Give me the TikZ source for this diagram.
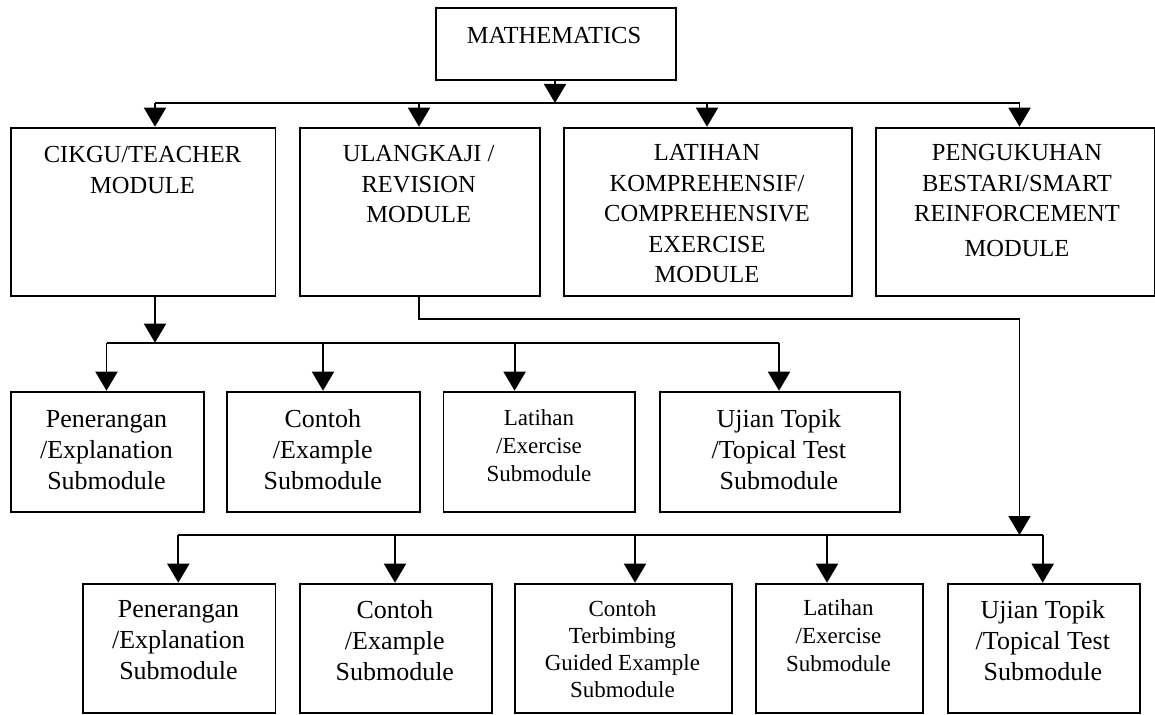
\documentclass[tikz,border=0pt]{standalone}
\usepackage{fontspec}
\setmainfont{Liberation Serif}
\usetikzlibrary{arrows.meta,calc}
\begin{document}
\begin{tikzpicture}[x=1pt,y=-1pt,
  box/.style={draw,line width=1.9pt,inner sep=0pt,anchor=north west},
  upper/.style={align=center,inner sep=0pt,font=\fontsize{24.5}{30.5}\selectfont},
  mixed/.style={align=center,inner sep=0pt,font=\fontsize{26}{31}\selectfont},
  small/.style={align=center,inner sep=0pt,font=\fontsize{23}{28}\selectfont},
  wire/.style={line width=1.9pt},
  arr/.style={line width=1.9pt,-{Triangle[width=22pt,length=19pt]}}]
\useasboundingbox (0,0) rectangle (1155,714);

% top
\node[box,minimum width=240.3pt,minimum height=72.3pt] (math) at (434.7,6.7) {};
\node[upper] (tmath) at (554,36) {MATHEMATICS};

% level 1 boxes
\node[box,minimum width=264.1pt,minimum height=168.3pt] (cikgu) at (10.4,126.7) {};
\node[box,minimum width=240.1pt,minimum height=168.3pt] (ulang) at (298.6,126.7) {};
\node[box,minimum width=288pt,minimum height=168.3pt] (latih) at (563,126.7) {};
\node[box,minimum width=278.5pt,minimum height=168.3pt] (peng) at (875,126.7) {};
\node[upper] (tcikgu) at (142.5,170) {CIKGU/TEACHER\\MODULE};
\node[upper] (tulang) at (418.7,184.5) {ULANGKAJI /\\REVISION\\MODULE};
\node[upper] (tlatih) at (707,214) {LATIHAN\\KOMPREHENSIF/\\COMPREHENSIVE\\EXERCISE\\MODULE};
\node[upper] (tpeng) at (1017,200.7) {PENGUKUHAN\\BESTARI/SMART\\REINFORCEMENT\\[4pt]MODULE};

% bus 1
\coordinate (j0) at (555,103);
\coordinate (b1a) at (155,103);
\coordinate (b1b) at (419,103);
\coordinate (b1c) at (707,103);
\coordinate (b1d) at (1019.5,103);
\draw[arr] (math.south -| j0) -- (j0);
\draw[wire] (b1a) -- (b1d);
\draw[arr] (b1a) -- (b1a |- cikgu.north);
\draw[arr] (b1b) -- (b1b |- ulang.north);
\draw[arr] (b1c) -- (b1c |- latih.north);
\draw[arr] (b1d) -- (b1d |- peng.north);

% level 2 boxes
\node[box,minimum width=192.3pt,minimum height=120.3pt] (p1) at (10.4,390.7) {};
\node[box,minimum width=192.8pt,minimum height=120.3pt] (c1) at (226.4,390.7) {};
\node[box,minimum width=191.9pt,minimum height=120.3pt] (l1) at (442.5,390.7) {};
\node[box,minimum width=240.3pt,minimum height=120.3pt] (u1) at (658.7,390.7) {};
\node[mixed] (tp1) at (106.5,450) {Penerangan\\/Explanation\\Submodule};
\node[mixed] (tc1) at (322.8,450) {Contoh\\/Example\\Submodule};
\node[small] (tl1) at (539,446) {Latihan\\/Exercise\\Submodule};
\node[mixed] (tu1) at (778.8,450) {Ujian Topik\\/Topical Test\\Submodule};

% bus 2
\coordinate (j1) at (155,342.7);
\coordinate (b2a) at (106.5,342.7);
\coordinate (b2b) at (323,342.7);
\coordinate (b2c) at (514.6,342.7);
\coordinate (b2d) at (779,342.7);
\draw[arr] (j1 |- cikgu.south) -- (j1);
\draw[wire] (b2a) -- (b2d);
\draw[arr] (b2a) -- (b2a |- p1.north);
\draw[arr] (b2b) -- (b2b |- c1.north);
\draw[arr] (b2c) -- (b2c |- l1.north);
\draw[arr] (b2d) -- (b2d |- u1.north);

% level 3 boxes
\node[box,minimum width=192.5pt,minimum height=129.3pt] (p2) at (82,582.7) {};
\node[box,minimum width=192.4pt,minimum height=129.3pt] (c2) at (298.6,582.7) {};
\node[box,minimum width=216.8pt,minimum height=129.3pt] (g2) at (514,582.7) {};
\node[box,minimum width=167.7pt,minimum height=129.3pt] (l2) at (754.7,582.7) {};
\node[box,minimum width=191.7pt,minimum height=129.3pt] (u2) at (947,582.7) {};
\node[mixed] (tp2) at (178.5,640.5) {Penerangan\\/Explanation\\Submodule};
\node[mixed] (tc2) at (394.8,640.5) {Contoh\\/Example\\Submodule};
\node[small,font=\fontsize{23}{27}\selectfont] (tg2) at (622.4,649.5) {Contoh\\Terbimbing\\Guided Example\\Submodule};
\node[small] (tl2) at (838.5,636) {Latihan\\/Exercise\\Submodule};
\node[mixed] (tu2) at (1042.8,640.5) {Ujian Topik\\/Topical Test\\Submodule};

% bus 3 (from revision module)
\coordinate (k1) at (419,319);
\coordinate (k2) at (1019.5,319);
\coordinate (j3) at (1019.5,535);
\coordinate (b3a) at (178.3,535);
\coordinate (b3b) at (395,535);
\coordinate (b3c) at (635,535);
\coordinate (b3d) at (827,535);
\coordinate (b3e) at (1042.7,535);
\draw[arr] (k1 |- ulang.south) -- (k1) -- (k2) -- (j3);
\draw[wire] (b3a) -- (b3e);
\draw[arr] (b3a) -- (b3a |- p2.north);
\draw[arr] (b3b) -- (b3b |- c2.north);
\draw[arr] (b3c) -- (b3c |- g2.north);
\draw[arr] (b3d) -- (b3d |- l2.north);
\draw[arr] (b3e) -- (b3e |- u2.north);
\end{tikzpicture}
\end{document}
